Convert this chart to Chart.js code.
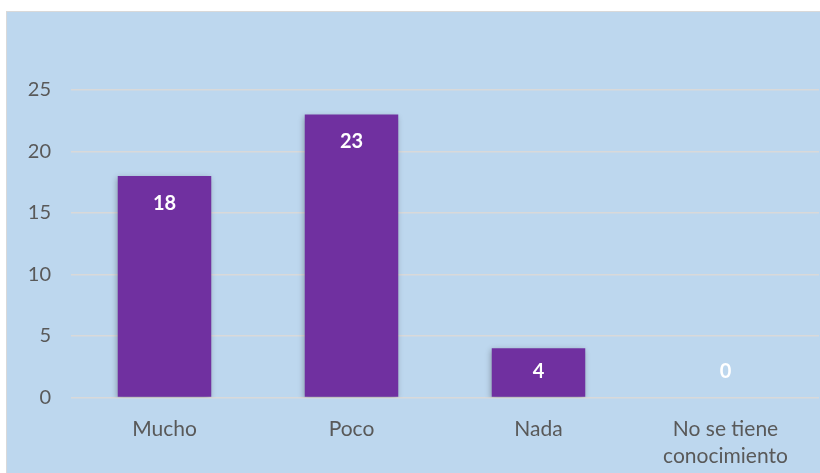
<!DOCTYPE html>
<html>
<head>
<meta charset="utf-8">
<script src="https://cdn.jsdelivr.net/npm/chart.js@4/dist/chart.umd.min.js"></script>
<style>
    html, body { margin: 0; padding: 0; background: #ffffff; overflow: hidden; }
    #box {
        position: absolute; left: 6px; top: 11px;
        width: 820px; height: 470px;
        background: #bdd7ee;
        border: 1px solid #d9d9d9;
        box-sizing: border-box;
    }
    #box canvas { position: absolute; left: 0; top: 0; }
</style>
</head>
<body>
<div id="box"><canvas id="barChart" width="818" height="468"></canvas></div>
<script>
// Chart data
const categories = ['Mucho', 'Poco', 'Nada', ['No se tiene', 'conocimiento']];
const values = [18, 23, 4, 0];
const yTicks = [0, 5, 10, 15, 20, 25];

// white value labels near the top of each bar
const valueLabels = {
    id: 'valueLabels',
    afterDatasetsDraw(chart) {
        const ctx = chart.ctx;
        const meta = chart.getDatasetMeta(0);
        const base = chart.scales.y.getPixelForValue(0);
        ctx.save();
        ctx.fillStyle = '#ffffff';
        ctx.font = 'bold 20px Lato, "Open Sans", sans-serif';
        ctx.textAlign = 'center';
        ctx.textBaseline = 'middle';
        meta.data.forEach((bar, i) => {
            const y = Math.min(bar.y + 27, base - 26);
            ctx.fillText(String(values[i]), bar.x, y);
        });
        ctx.restore();
    }
};

// soft shadow behind bars
const barShadow = {
    id: 'barShadow',
    beforeDatasetDraw(chart) {
        const ctx = chart.ctx;
        ctx.save();
        ctx.shadowColor = 'rgba(0,0,0,0.3)';
        ctx.shadowBlur = 6;
        ctx.shadowOffsetX = -1;
        ctx.shadowOffsetY = 2;
    },
    afterDatasetDraw(chart) {
        chart.ctx.restore();
    }
};

new Chart(document.getElementById('barChart'), {
    type: 'bar',
    data: {
        labels: categories,
        datasets: [{
            data: values,
            backgroundColor: '#7030a0',
            borderWidth: 0,
            categoryPercentage: 1.0,
            barPercentage: 0.5
        }]
    },
    options: {
        responsive: false,
        animation: false,
        layout: { padding: { top: 78, right: 6, left: 0, bottom: 0 } },
        plugins: {
            legend: { display: false },
            tooltip: { enabled: false }
        },
        scales: {
            x: {
                grid: { display: false },
                border: { display: false },
                ticks: {
                    color: '#595959',
                    font: { family: 'Lato, "Open Sans", sans-serif', size: 21, lineHeight: 1.25 },
                    padding: 11,
                    maxRotation: 0
                }
            },
            y: {
                min: 0,
                max: 25,
                afterBuildTicks(scale) {
                    scale.ticks = yTicks.map(v => ({ value: v }));
                },
                afterFit(scale) { scale.width = 64; },
                grid: { color: '#d9d9d9', lineWidth: 1.5, drawTicks: false },
                border: { display: false },
                ticks: {
                    color: '#595959',
                    font: { family: 'Lato, "Open Sans", sans-serif', size: 20 },
                    padding: 20
                }
            }
        }
    },
    plugins: [barShadow, valueLabels]
});
</script>
</body>
</html>
